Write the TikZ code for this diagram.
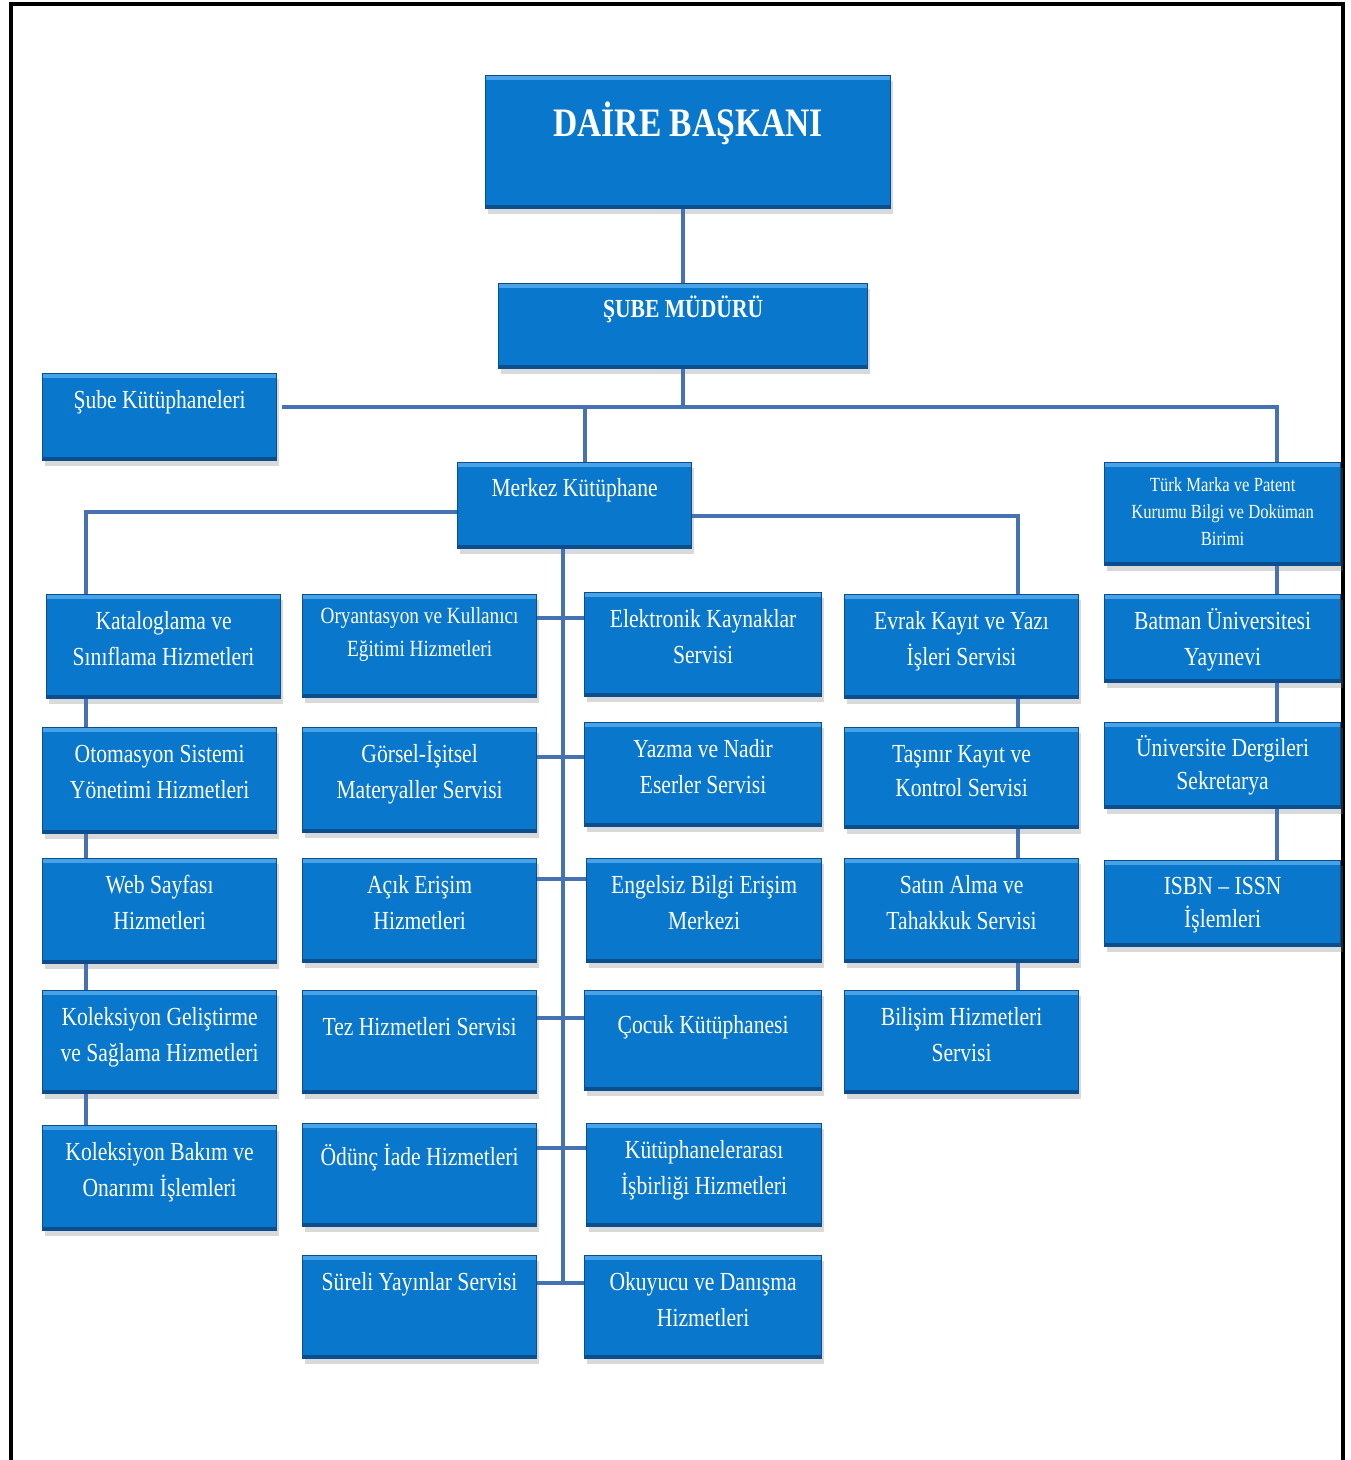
\documentclass[tikz,border=0pt]{standalone}
\usepackage{fontspec}
\setmainfont{Liberation Serif}[FakeStretch=0.83]
\usetikzlibrary{shadows}

\definecolor{boxblue}{RGB}{9,119,204}
\definecolor{boxlight}{RGB}{72,162,232}
\definecolor{boxdark}{RGB}{10,78,142}
\definecolor{linkblue}{RGB}{70,114,178}

\tikzset{
  unit/.style={anchor=north west, inner sep=0pt, align=flush center, text=white,
    text width=2.34cm, text height=0.35cm, fill=boxblue, draw=boxdark, line width=0.3pt,
    font=\fontsize{7.4}{10.2}\selectfont,
    drop shadow={shadow xshift=0.02cm, shadow yshift=-0.05cm, opacity=0.3},
    path picture={
      \fill[boxlight] (path picture bounding box.north west) rectangle ([yshift=-0.04cm]path picture bounding box.north east);
      \fill[boxdark] (path picture bounding box.south west) rectangle ([yshift=0.04cm]path picture bounding box.south east);}},
  smalltext/.style={font=\fontsize{6.6}{9.4}\selectfont, text height=0.29cm},
  tinytext/.style={font=\fontsize{5.7}{7.7}\selectfont, text height=0.29cm},
  link/.style={draw=linkblue, line width=1.2pt},
}

\begin{document}
\begin{tikzpicture}[x=0.01cm, y=-0.01cm]
  \useasboundingbox (0,0) rectangle (1350,1460);
  % frame
  \draw[line width=0.04cm] (11,1460) -- (11,4) -- (1343,4) -- (1343,1460);

  % top
  \node[unit, text width=4.05cm, text height=0.61cm, text depth=0.72cm,
        font=\fontsize{11.5}{14}\selectfont\bfseries] (daire) at (485,75) {DAİRE BAŞKANI};
  \node[unit, text width=3.69cm, text height=0.34cm, text depth=0.51cm,
        font=\fontsize{7.4}{10.2}\selectfont\bfseries] (sube) at (498,283) {ŞUBE MÜDÜRÜ};
  \node[unit, text depth=0.52cm] (subekut) at (42,373) {Şube Kütüphaneleri};
  \node[unit, text height=0.34cm, text depth=0.52cm] (merkez) at (457,462) {Merkez Kütüphane};

  %% right column
  \node[unit, tinytext, text width=2.36cm, text depth=0.74cm] (turk) at (1104,462)
    {Türk Marka ve Patent\\Kurumu Bilgi ve Doküman\\Birimi};
  \node[unit, text width=2.36cm, text depth=0.53cm] (batman) at (1104,594) {Batman Üniversitesi\\Yayınevi};
  \node[unit, text width=2.36cm, text height=0.34cm, text depth=0.52cm,
        font=\fontsize{7.4}{9.4}\selectfont] (dergi) at (1104,722) {Üniversite Dergileri\\Sekretarya};
  \node[unit, text width=2.36cm, text height=0.34cm, text depth=0.52cm,
        font=\fontsize{7.4}{9.4}\selectfont] (isbn) at (1104,860) {ISBN – ISSN\\İşlemleri};

  %% column 1
  \node[unit, text depth=0.69cm] (katalog) at (46,594) {Kataloglama ve\\Sınıflama Hizmetleri};
  \node[unit, text depth=0.71cm] (otomasyon) at (42,727) {Otomasyon Sistemi\\Yönetimi Hizmetleri};
  \node[unit, text depth=0.70cm] (web) at (42,858) {Web Sayfası\\Hizmetleri};
  \node[unit, text depth=0.68cm] (kolgel) at (42,990) {Koleksiyon Geliştirme\\ve Sağlama Hizmetleri};
  \node[unit, text depth=0.70cm] (kolbak) at (42,1125) {Koleksiyon Bakım ve\\Onarımı İşlemleri};

  %% column 2
  \node[unit, smalltext, text depth=0.74cm] (oryan) at (302,594) {Oryantasyon ve Kullanıcı\\Eğitimi Hizmetleri};
  \node[unit, text depth=0.70cm] (gorsel) at (302,727) {Görsel-İşitsel\\Materyaller Servisi};
  \node[unit, text depth=0.69cm] (acik) at (302,858) {Açık Erişim\\Hizmetleri};
  \node[unit, text height=0.45cm, text depth=0.58cm] (tez) at (302,990) {Tez Hizmetleri Servisi};
  \node[unit, text height=0.42cm, text depth=0.61cm] (odunc) at (302,1123) {Ödünç İade Hizmetleri};
  \node[unit, text depth=0.68cm] (sureli) at (302,1255) {Süreli Yayınlar Servisi};

  %% column 3
  \node[unit, text width=2.37cm, text depth=0.69cm] (elek) at (584,592) {Elektronik Kaynaklar\\Servisi};
  \node[unit, text width=2.37cm, text depth=0.69cm] (yazma) at (584,722) {Yazma ve Nadir\\Eserler Servisi};
  \node[unit, text width=2.35cm, text depth=0.69cm] (engelsiz) at (586,858) {Engelsiz Bilgi Erişim\\Merkezi};
  \node[unit, text width=2.37cm, text height=0.43cm, text depth=0.57cm] (cocuk) at (584,990) {Çocuk Kütüphanesi};
  \node[unit, text width=2.35cm, text depth=0.68cm] (kutler) at (586,1123) {Kütüphanelerarası\\İşbirliği Hizmetleri};
  \node[unit, text width=2.37cm, text depth=0.68cm] (okuyucu) at (584,1255) {Okuyucu ve Danışma\\Hizmetleri};

  %% column 4
  \node[unit, text depth=0.69cm] (evrak) at (844,594) {Evrak Kayıt ve Yazı\\İşleri Servisi};
  \node[unit, text depth=0.66cm, font=\fontsize{7.4}{9.6}\selectfont] (tasinir) at (844,727) {Taşınır Kayıt ve\\Kontrol Servisi};
  \node[unit, text depth=0.69cm] (satin) at (844,858) {Satın Alma ve\\Tahakkuk Servisi};
  \node[unit, text depth=0.68cm] (bilisim) at (844,990) {Bilişim Hizmetleri\\Servisi};

  % connectors
  \coordinate (hub) at (683,407);
  \coordinate (rx) at (1277,407);
  \coordinate (mx) at (585,407);
  \draw[link] (sube.north) -- (sube.north |- daire.south);
  \draw[link] (sube.south) -- (sube.south |- hub);
  \draw[link, shorten <=0.05cm] (subekut.east |- hub) -- (rx) -- (turk.north -| rx);
  \draw[link] (mx) -- (merkez.north -| mx);
  \draw[link] (turk.south -| rx) -- (batman.north -| rx);
  \draw[link] (batman.south -| rx) -- (dergi.north -| rx);
  \draw[link] (dergi.south -| rx) -- (isbn.north -| rx);

  %% under Merkez
  \coordinate (ml) at (86,512);
  \coordinate (mr) at (1018,516);
  \coordinate (tr) at (563,1283);
  \draw[link] (merkez.west |- ml) -- (ml) -- (katalog.north -| ml);
  \draw[link] (merkez.east |- mr) -- (mr) -- (evrak.north -| mr);
  \draw[link] (merkez.south -| tr) -- (tr);
  \foreach \a/\b in {katalog/otomasyon, otomasyon/web, web/kolgel, kolgel/kolbak}
    \draw[link] (\a.south -| ml) -- (\b.north -| ml);
  \foreach \a/\b in {evrak/tasinir, tasinir/satin, satin/bilisim}
    \draw[link] (\a.south -| mr) -- (\b.north -| mr);
  \foreach \l/\r/\d in {oryan/elek/0.24cm, gorsel/yazma/0.30cm, acik/engelsiz/0.21cm,
                        tez/cocuk/0.28cm, odunc/kutler/0.25cm, sureli/okuyucu/0.28cm}{
    \coordinate (br) at ([yshift=-\d]\l.north east);
    \draw[link] (br) -- (br -| \r.west);}

\end{tikzpicture}
\end{document}
